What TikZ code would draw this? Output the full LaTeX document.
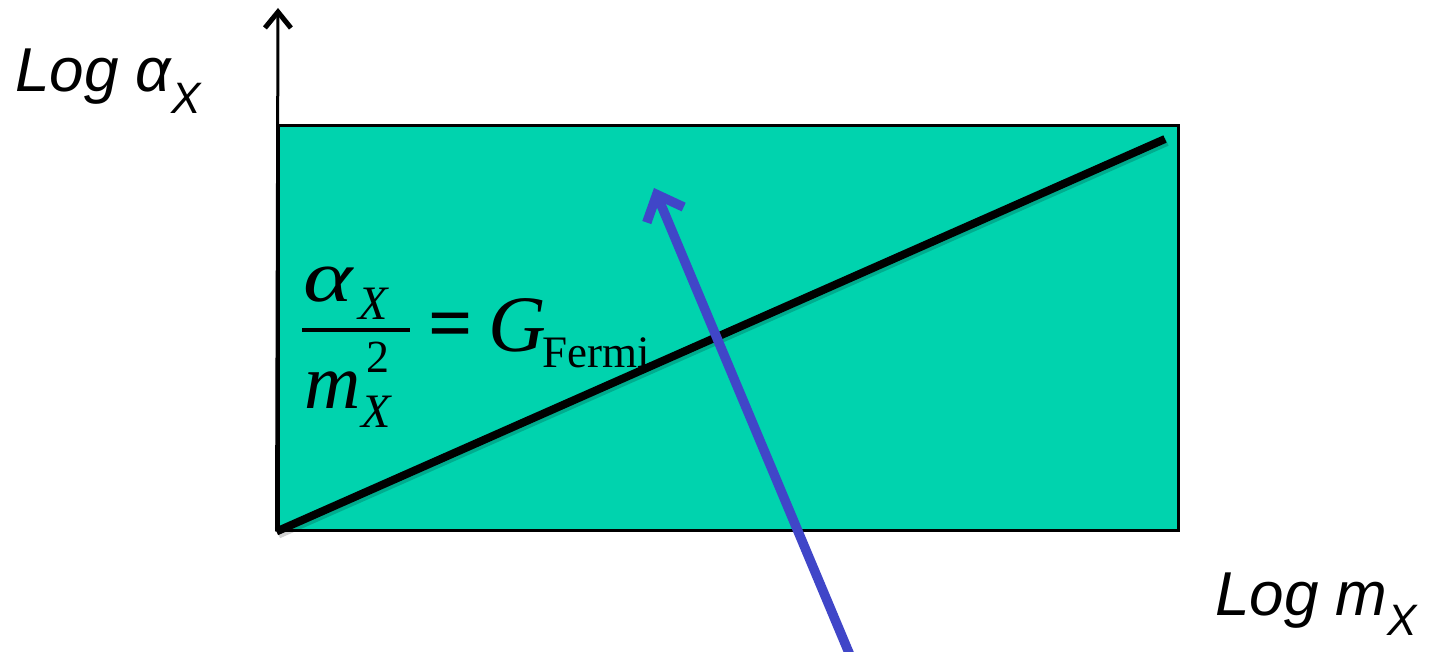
\documentclass[tikz,border=0pt]{standalone}
\usepackage{fontspec}
\usepackage{graphicx}
\setmainfont{Liberation Serif}
\newfontfamily\arialfont{Liberation Sans}
\usetikzlibrary{arrows.meta}
\definecolor{plotteal}{HTML}{00D3AE}
\definecolor{arrowblue}{HTML}{4046C8}
\begin{document}
\begin{tikzpicture}[x=1pt,y=-1pt,
  lbl/.style={anchor=base west,inner sep=0pt,font=\arialfont\itshape},
  mth/.style={anchor=base west,inner sep=0pt},
  plotbox/.style={draw=black,line width=3pt,fill=plotteal,inner sep=0pt,minimum width=900pt,minimum height=404pt}]
\useasboundingbox (0,0) rectangle (1433,652);
% plot area
\node[plotbox] (plot) at (728,328) {};
% axis
\coordinate (ytop) at (278,8);
\draw[line width=3pt,-{Straight Barb[length=16pt,width=26pt,line width=5pt]}] (plot.south west) -- (ytop);
% black line with faint shadow
\coordinate (lineend) at (1165,139);
\draw[line width=8pt,black,opacity=0.18,transform canvas={shift={(2pt,-3pt)}}] (plot.south west) -- (lineend);
\draw[line width=8pt] (plot.south west) -- (lineend);
% blue arrow
\coordinate (bstart) at (852,660);
\coordinate (btip) at (654,188);
\draw[arrowblue,line width=9.5pt,-{Straight Barb[length=22pt,width=40pt,line width=9.5pt]}] (bstart) -- (btip);
% axis labels
\node[lbl] (ylab) at (15,92) {\fontsize{62}{66}\selectfont Log α\raisebox{-22pt}{\fontsize{44}{46}\selectfont X}};
\node[lbl] (xlab) at (1215,615) {\fontsize{62}{66}\selectfont Log m\raisebox{-20pt}{\fontsize{44}{46}\selectfont X}};
% formula
\node[mth] (alpha) at (303,302) {\fontsize{94}{96}\selectfont\itshape\scalebox{1}[0.78]{α}};
\node[mth] (alsub) at (358,320) {\fontsize{48}{50}\selectfont\itshape X};
\coordinate (barL) at (302,330);
\coordinate (barR) at (410,330);
\draw[line width=4.5pt] (barL) -- (barR);
\node[mth] (m) at (304,408) {\fontsize{78}{80}\selectfont\itshape m};
\node[mth] (two) at (366,373) {\fontsize{46}{48}\selectfont 2};
\node[mth] (msub) at (361,427) {\fontsize{48}{50}\selectfont\itshape X};
\node[inner sep=0pt] (eq) at (451,331) {\fontsize{78}{80}\selectfont\bfseries =};
\node[mth] (G) at (488,352) {\fontsize{80}{82}\selectfont\itshape G};
\node[mth] (fermi) at (542,368) {\fontsize{45}{48}\selectfont Fermi};
\end{tikzpicture}
\end{document}
